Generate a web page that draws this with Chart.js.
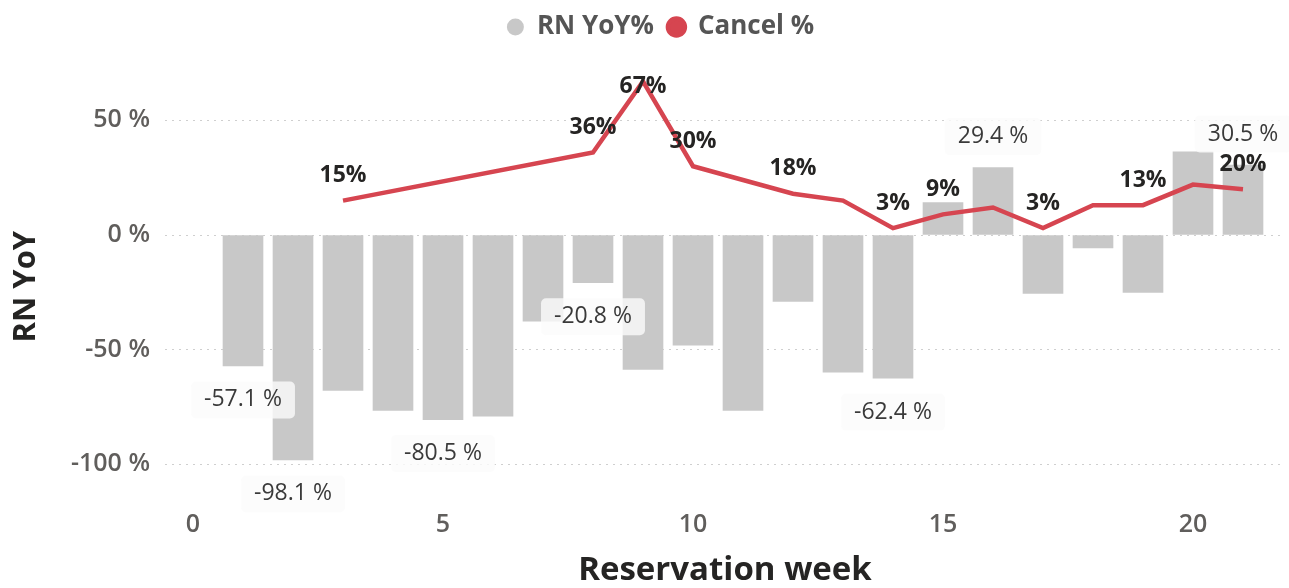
<!DOCTYPE html>
<html>
<head>
<meta charset="utf-8">
<title>RN YoY vs Cancel %</title>
<script src="https://cdn.jsdelivr.net/npm/chart.js@4.4.1/dist/chart.umd.min.js"></script>
<style>
  html, body { margin: 0; padding: 0; background: #fff; }
  canvas { display: block; }
</style>
</head>
<body>
<canvas id="chart" width="1289" height="588"></canvas>
<script>
// reservation weeks
var weeks = [1, 2, 3, 4, 5, 6, 7, 8, 9, 10, 11, 12, 13, 14, 15, 16, 17, 18, 19, 20, 21];
// RN YoY % (bars)
var rnYoy = [-57.1, -98.1, -67.8, -76.5, -80.5, -79, -37.6, -20.8, -58.6, -48, -76.5, -29, -59.8, -62.4, 14.1, 29.4, -25.5, -5.6, -25, 36.3, 30.5];
// Cancel % (line) - no value for weeks 1-2 and 4-7
var cancelPct = [null, null, 15, null, null, null, null, 36, 67, 30, 24, 18, 15, 3, 9, 12, 3, 13, 13, 22, 20];
// which points get a data label
var rnLabelWeeks = [1, 2, 5, 8, 14, 16, 21];
var cancelLabelWeeks = [3, 8, 9, 10, 12, 14, 15, 17, 19, 21];
var xTicks = [0, 5, 10, 15, 20];
var yTicks = [-100, -50, 0, 50];

var FONT = "'Open Sans', 'Noto Sans', sans-serif";
var GREY = "#C8C8C8", RED = "#D64550";

var dataLabels = {
  id: "dataLabels",
  afterDatasetDraw: function(chart, args) {
    if (args.index !== 0) return;
    var c = chart.ctx;
    c.save();
    c.font = "23px " + FONT;
    c.textAlign = "center";
    c.textBaseline = "middle";
    args.meta.data.forEach(function(bar, i) {
      if (rnLabelWeeks.indexOf(weeks[i]) < 0) return;
      var v = rnYoy[i];
      var txt = v.toFixed(1) + " %";
      var y = v < 0 ? bar.y + 34 : bar.y - 31;
      var w = c.measureText(txt).width + 26, h = 37;
      c.fillStyle = "rgba(251,251,251,0.8)";
      c.beginPath();
      c.roundRect(bar.x - w / 2, y - h / 2, w, h, 5);
      c.fill();
      c.fillStyle = "#3a3a3a";
      c.fillText(txt, bar.x, y);
    });
    c.restore();
  },
  afterDatasetsDraw: function(chart) {
    var c = chart.ctx, meta = chart.getDatasetMeta(1), top = chart.chartArea.top;
    c.save();
    c.font = "bold 23px " + FONT;
    c.textAlign = "center";
    c.textBaseline = "middle";
    c.fillStyle = "#252423";
    meta.data.forEach(function(pt, i) {
      if (cancelLabelWeeks.indexOf(weeks[i]) < 0 || cancelPct[i] == null) return;
      var y = Math.max(pt.y - 25, top + 12);
      c.fillText(Math.round(cancelPct[i]) + "%", pt.x, y);
    });
    c.restore();
  }
};

// legend takes the whole strip above the plot, and sits a bit right of centre
var legendTweak = {
  id: "legendTweak",
  afterInit: function(chart) {
    var lg = chart.legend, fit = lg.fit, draw = lg.draw;
    lg.fit = function() { fit.call(this); this.height = 74.5; };
    lg.draw = function() {
      this.ctx.save();
      this.ctx.translate(18, 0);
      draw.apply(this, arguments);
      this.ctx.restore();
    };
  }
};

var tickFont = { family: FONT, size: 25, weight: "600" };

new Chart(document.getElementById("chart"), {
  type: "bar",
  data: {
    datasets: [{
      type: "bar",
      label: "RN YoY%",
      data: weeks.map(function(w, i) { return { x: w, y: rnYoy[i] }; }),
      backgroundColor: GREY,
      barThickness: 40,
      order: 1
    }, {
      type: "line",
      label: "Cancel %",
      data: weeks.map(function(w, i) { return { x: w, y: cancelPct[i] }; }),
      borderColor: RED,
      backgroundColor: RED,
      borderWidth: 4.5,
      pointRadius: 0,
      spanGaps: true,
      tension: 0,
      order: 0
    }]
  },
  options: {
    responsive: false,
    animation: false,
    layout: { padding: { top: 0, right: 4, bottom: 0, left: 0 } },
    plugins: {
      legend: {
        position: "top",
        labels: {
          usePointStyle: true,
          pointStyle: "circle",
          pointStyleWidth: 17,
          boxHeight: 12,
          padding: 14,
          color: "#555",
          font: { family: FONT, size: 26, weight: "bold" },
          sort: function(a, b) { return a.datasetIndex - b.datasetIndex; }
        }
      },
      tooltip: { enabled: false }
    },
    scales: {
      x: {
        type: "linear",
        offset: false,
        min: -0.56,
        max: 21.84,
        afterBuildTicks: function(s) { s.ticks = xTicks.map(function(v) { return { value: v }; }); },
        afterFit: function(s) { s.height = 89.3; },
        grid: { display: false, drawTicks: false },
        border: { display: false },
        ticks: { font: tickFont, color: "#605E5C", padding: 11 },
        title: {
          display: true,
          text: "Reservation week",
          color: "#252423",
          font: { family: FONT, size: 33, weight: "bold" },
          padding: { top: 0, bottom: -2 }
        }
      },
      y: {
        min: -115,
        max: 70,
        afterBuildTicks: function(s) { s.ticks = yTicks.map(function(v) { return { value: v }; }); },
        afterFit: function(s) { s.width = 165; },
        grid: { color: "#CFCFCF", lineWidth: 1, drawTicks: false },
        border: { display: false, dash: [2, 5] },
        ticks: {
          font: tickFont,
          color: "#605E5C",
          padding: 15,
          callback: function(v) { return v + " %"; }
        },
        title: {
          display: true,
          text: "RN YoY",
          color: "#252423",
          font: { family: FONT, size: 31, weight: "bold" },
          padding: { top: 8, bottom: 0 }
        }
      }
    }
  },
  plugins: [dataLabels, legendTweak]
});
</script>
</body>
</html>
